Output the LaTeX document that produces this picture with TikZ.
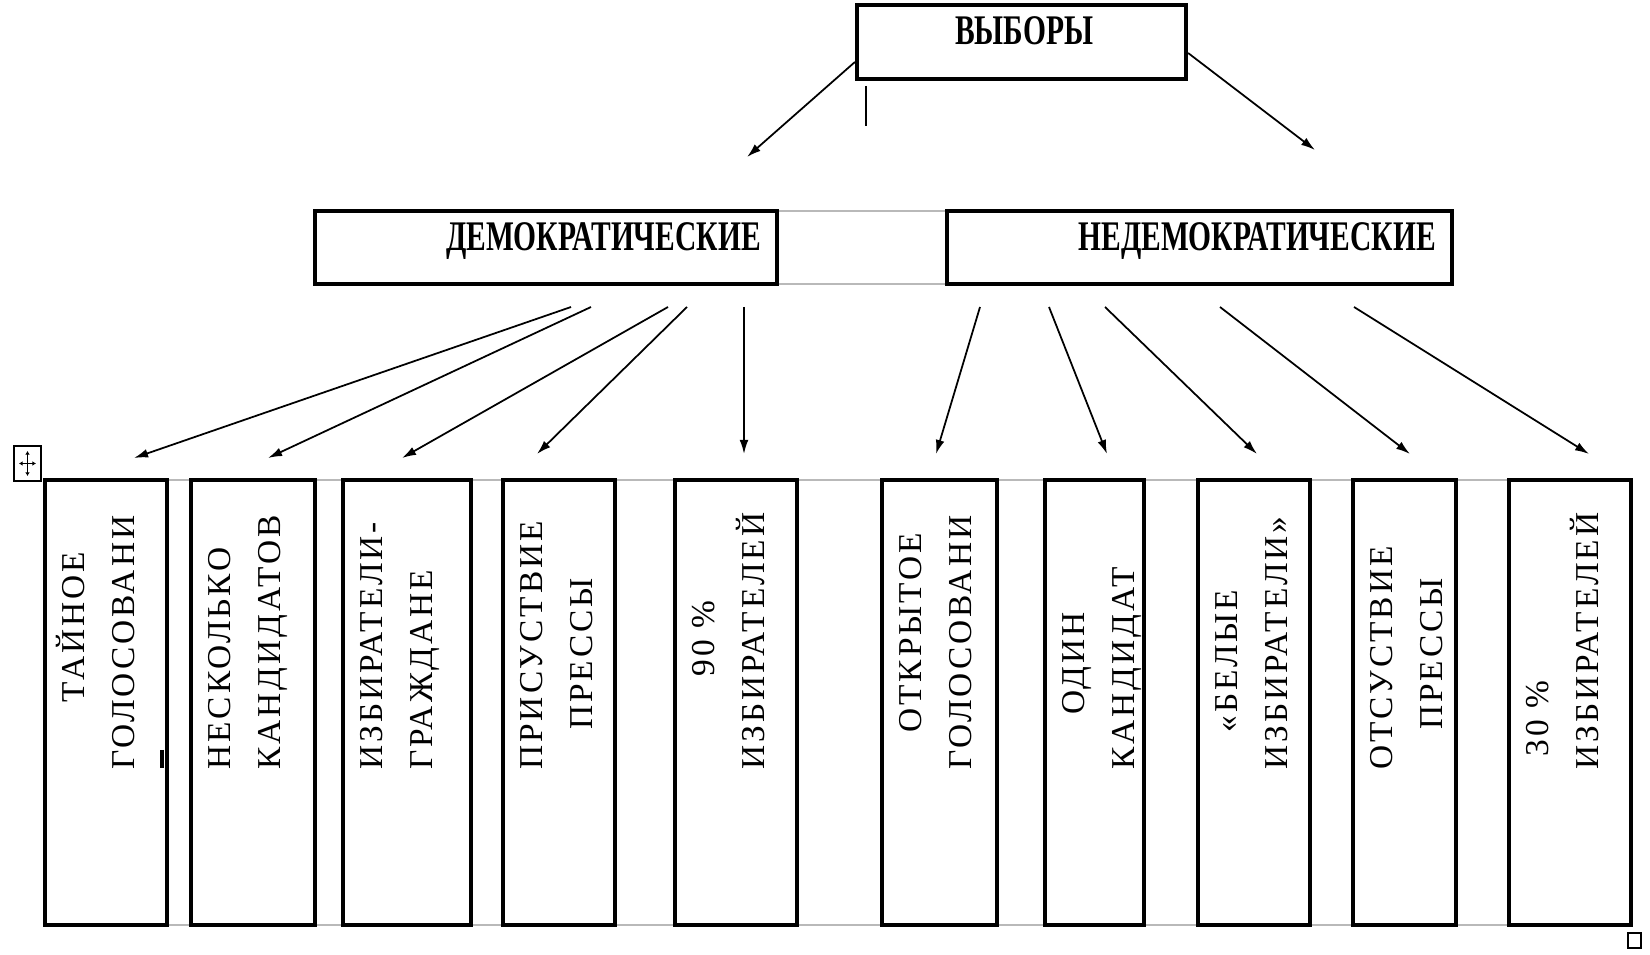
\documentclass[tikz,border=0pt]{standalone}
\usepackage{fontspec}
\newfontfamily\headfont[FakeStretch=0.7]{Liberation Serif}
\newfontfamily\boxfont[LetterSpace=9]{Liberation Serif}
\usetikzlibrary{arrows.meta}

\begin{document}
\begin{tikzpicture}[x=0.02cm,y=-0.02cm,
    headbox/.style={draw, line width=2.4pt, inner sep=0pt, minimum height=1.47cm},
    colbox/.style={draw, line width=2.3pt, inner sep=0pt, minimum height=8.9cm},
    headtext/.style={font=\headfont\bfseries\fontsize{24}{28}\selectfont, inner sep=0pt},
    coltext/.style={font=\boxfont\fontsize{19}{24}\selectfont, rotate=90, anchor=base west, inner sep=0pt},
    arr/.style={-{Latex[length=8pt,width=5pt]}, line width=1pt},
    rule/.style={gray!55, line width=1pt}]

    \useasboundingbox (0,0) rectangle (1650,955);

    % thin table lines
    \draw[rule] (777,211) -- (947,211);
    \draw[rule] (777,284) -- (947,284);
    \draw[rule] (45,480) -- (1631,480);
    \draw[rule] (45,925) -- (1631,925);

    % top box
    \node[headbox, minimum width=6.58cm] (vybory) at (1021.5,42) {};
    \node[headtext, anchor=base] (vyboryT) at (1024,45) {ВЫБОРЫ};
    \draw[line width=1.2pt] (866,86) -- (866,126);

    % second row
    \node[headbox, minimum width=9.24cm] (dem) at (546,247.5) {};
    \node[headtext, anchor=base east] (demT) at (761,251) {ДЕМОКРАТИЧЕСКИЕ};
    \node[headbox, minimum width=10.1cm] (nedem) at (1199.5,247.5) {};
    \node[headtext, anchor=base east] (nedemT) at (1436,251) {НЕДЕМОКРАТИЧЕСКИЕ};

    \coordinate (demtip) at (747,157);
    \coordinate (nedemtip) at (1315,150);
    \draw[arr] ([yshift=-0.4cm]vybory.west) -- (demtip);
    \draw[arr] ([yshift=-0.22cm]vybory.east) -- (nedemtip);

    % columns
    \foreach \i/\xa/\xb/\la/\sa/\lb/\sb in {
        1/45/167/ТАЙНОЕ/703/ГОЛОСОВАНИ/770,
        2/191/315/НЕСКОЛЬКО/770/КАНДИДАТОВ/770,
        3/343/471/ИЗБИРАТЕЛИ-/770/ГРАЖДАНЕ/770,
        4/503/615/ПРИСУСТВИЕ/770/ПРЕССЫ/730,
        5/675/797/90 \%/677/ИЗБИРАТЕЛЕЙ/770,
        6/882/997/ОТКРЫТОЕ/733/ГОЛОСОВАНИ/770,
        7/1045/1144/ОДИН/715/КАНДИДАТ/770,
        8/1198/1310/«БЕЛЫЕ/733/ИЗБИРАТЕЛИ»/770,
        9/1353/1456/ОТСУСТВИЕ/770/ПРЕССЫ/730,
        10/1509/1631/30 \%/757/ИЗБИРАТЕЛЕЙ/770}{
        \node[colbox, minimum width={(\xb-\xa)*0.02cm}] (b\i) at ({(\xa+\xb)/2},702.5) {};
        \node[coltext] (l\i) at (\xa+39,\sa) {\la};
        \node[coltext] (r\i) at (\xa+89,\sb) {\lb};
    }
    \draw[line width=2.5pt] (162,750) -- (162,768);

    % arrows to columns
    \foreach \sx/\ex/\ey [count=\i] in {571/134/458, 591/268/458, 668/402/458, 687/537/454, 744/744/454}{
        \coordinate (ds\i) at (\sx,307);
        \coordinate (de\i) at (\ex,\ey);
        \draw[arr] (ds\i) -- (de\i);
    }
    \foreach \sx/\ex [count=\i] in {980/936, 1049/1107, 1105/1257, 1220/1410, 1354/1589}{
        \coordinate (ns\i) at (\sx,307);
        \coordinate (ne\i) at (\ex,454);
        \draw[arr] (ns\i) -- (ne\i);
    }

    % handles
    \draw[line width=0.6pt] (14,446) rectangle (41,481);
    \draw[{Latex[length=2pt,width=2.5pt]}-{Latex[length=2pt,width=2.5pt]}, line width=0.6pt] (19,463.5) -- (36,463.5);
    \draw[{Latex[length=2pt,width=2.5pt]}-{Latex[length=2pt,width=2.5pt]}, line width=0.6pt] (27.5,451) -- (27.5,476);
    \draw[line width=0.6pt] (1628,933) rectangle (1641,948);
\end{tikzpicture}
\end{document}
